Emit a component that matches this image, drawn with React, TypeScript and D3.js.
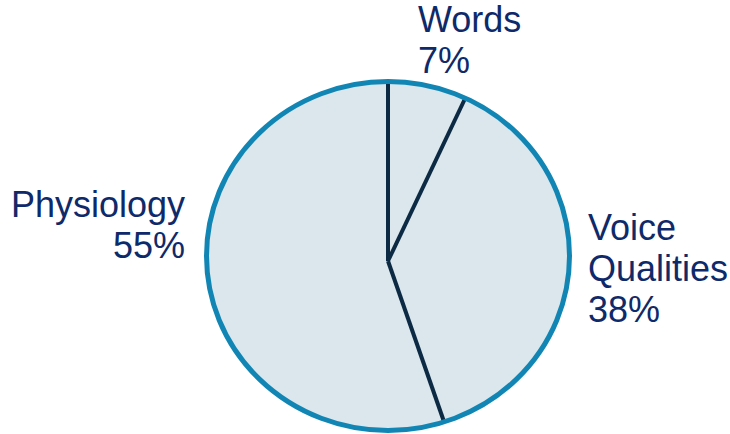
import React from "react";
import * as d3 from "d3";

const categories = ["Words", "Voice Qualities", "Physiology"];
const values = [7, 38, 55];
const labelLines = [["Words", "7%"], ["Voice", "Qualities", "38%"], ["Physiology", "55%"]];

const W = 730;
const H = 434;

export default function App() {
  const cx = 388;
  const cy = 256;
  const rx = 181.5;
  const ry = 174.5;
  const hubDy = 5;
  const fill = "#dbe7ec";
  const border = "#1186b4";
  const lineColor = "#0c2a44";
  const textColor = "#0e2a6a";

  const pie = d3.pie<number>().sort(null).value((d) => d)(values);
  const arc = d3.arc<d3.PieArcDatum<number>>().innerRadius(0).outerRadius(rx);

  const pt = (a: number): [number, number] => [cx + (rx - 1) * Math.sin(a), cy - (ry - 1) * Math.cos(a)];
  const line = d3.line<[number, number]>();

  const labelPos: { x: number; y: number; anchor: string }[] = [
    { x: 418, y: 32, anchor: "start" },
    { x: 588, y: 240, anchor: "start" },
    { x: 185, y: 217, anchor: "end" },
  ];

  return (
    <svg width={W} height={H} style={{ position: "absolute", left: 0, top: 0 }}>
      <g transform={`translate(${cx},${cy}) scale(1,${ry / rx})`}>
        {pie.map((p, i) => (
          <path key={categories[i]} d={arc(p) || ""} fill={fill} stroke="none" />
        ))}
      </g>
      {pie.map((p, i) => (
        <path
          key={"l" + i}
          d={line([[cx, cy + hubDy], pt(p.startAngle)]) || ""}
          stroke={lineColor}
          strokeWidth={4}
          fill="none"
        />
      ))}
      <ellipse cx={cx} cy={cy} rx={rx} ry={ry} fill="none" stroke={border} strokeWidth={5} />
      {labelLines.map((lines, i) => (
        <text
          key={"t" + i}
          x={labelPos[i].x}
          y={labelPos[i].y}
          textAnchor={labelPos[i].anchor}
          fontFamily="'Liberation Sans', Arial, sans-serif"
          fontSize={36}
          fill={textColor}
        >
          {lines.map((s, j) => (
            <tspan key={j} x={labelPos[i].x} dy={j === 0 ? 0 : 41}>
              {s}
            </tspan>
          ))}
        </text>
      ))}
    </svg>
  );
}
